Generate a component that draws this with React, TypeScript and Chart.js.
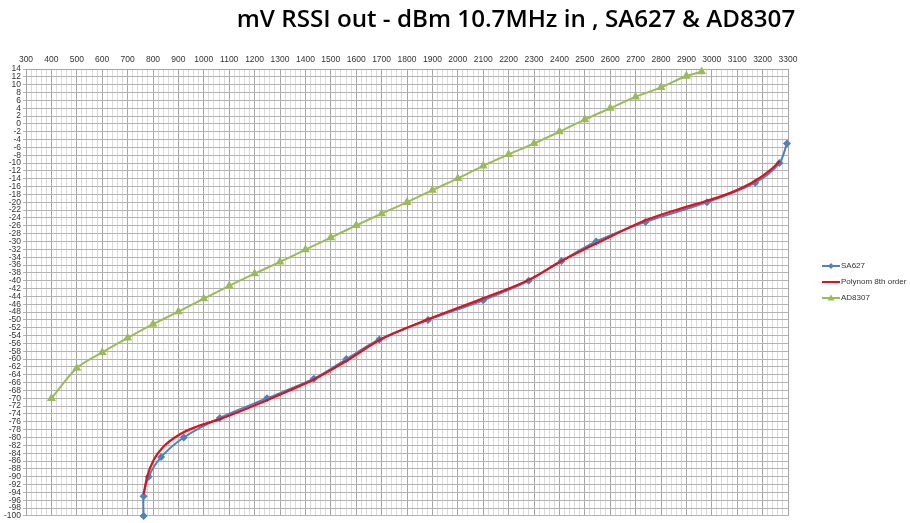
import React, { useEffect, useRef } from "react";
import { Chart, registerables } from "chart.js";

Chart.register(...registerables);

// ---- Data (mV on x, dBm on y) ----
const sa627X = [763, 763, 783, 832, 921, 1063, 1249, 1433, 1561, 1691, 1883, 2100, 2279, 2408, 2545, 2739, 2981, 3171, 3266, 3296];
const sa627Y = [-100, -95, -90, -85, -80, -75, -70, -65, -60, -55, -50, -45, -40, -35, -30, -25, -20, -15, -10, -5];

const polyX = [763, 777, 803, 842, 908, 974, 1063, 1170, 1249, 1330, 1433, 1561, 1691, 1885, 2100, 2279, 2408, 2562, 2739, 2877, 2981, 3073, 3171, 3230, 3268];
const polyY = [-94.5, -90, -85.7, -82.3, -79.1, -77.2, -75.3, -72.6, -70.5, -68.2, -65.2, -60.5, -55.2, -49.8, -44.5, -39.8, -35, -30, -24.6, -21.6, -19.6, -17.6, -14.5, -11.8, -9.5];

const ad8307X = [400, 500, 600, 700, 800, 900, 1000, 1100, 1200, 1300, 1400, 1500, 1600, 1700, 1800, 1900, 2000, 2100, 2200, 2300, 2400, 2500, 2600, 2700, 2800, 2900, 2960];
const ad8307Y = [-70, -62.3, -58.3, -54.6, -51.1, -47.9, -44.6, -41.3, -38.2, -35.2, -32.1, -29.0, -25.9, -22.9, -20.0, -16.9, -13.9, -10.7, -7.8, -5.0, -2.0, 1.1, 4.0, 6.9, 9.3, 12.2, 13.3];

const xMin = 300;
const xMax = 3300;
const xLabelStep = 100;
const xGridStep = 20;
const yMin = -100;
const yMax = 14;
const yStep = 2;

const titleText = "mV RSSI out - dBm 10.7MHz in , SA627 & AD8307";
const seriesNames = ["SA627", "Polynom 8th order", "AD8307"];

const BLUE = "#4F81BD";
const RED = "#E3101A";
const GREEN = "#9BBB59";
const FONT = "'Liberation Sans', Arial, sans-serif";

const toPoints = (xs: number[], ys: number[]) => xs.map((x, i) => ({ x, y: ys[i] }));

export default function App() {
  const ref = useRef<HTMLCanvasElement>(null);

  useEffect(() => {
    if (!ref.current) return;

    const overlay = {
      id: "overlay",
      afterDraw(chart: any) {
        const ctx = chart.ctx as CanvasRenderingContext2D;
        ctx.save();
        // title
        ctx.fillStyle = "#000";
        ctx.font = "600 24.2px 'Open Sans', sans-serif";
        ctx.textAlign = "center";
        ctx.textBaseline = "middle";
        ctx.fillText(titleText, 516, 20);
        // legend
        const styles = [
          { color: BLUE, marker: "diamond" },
          { color: RED, marker: "" },
          { color: GREEN, marker: "triangle" },
        ];
        styles.forEach((s, i) => {
          const y = 266 + 16 * i;
          ctx.strokeStyle = s.color;
          ctx.lineWidth = 2;
          ctx.beginPath();
          ctx.moveTo(822, y);
          ctx.lineTo(840, y);
          ctx.stroke();
          ctx.fillStyle = s.color;
          if (s.marker === "diamond") {
            ctx.beginPath();
            ctx.moveTo(831, y - 3);
            ctx.lineTo(834, y);
            ctx.lineTo(831, y + 3);
            ctx.lineTo(828, y);
            ctx.closePath();
            ctx.fill();
          } else if (s.marker === "triangle") {
            ctx.beginPath();
            ctx.moveTo(831, y - 3.5);
            ctx.lineTo(834.5, y + 2.5);
            ctx.lineTo(827.5, y + 2.5);
            ctx.closePath();
            ctx.fill();
          }
          ctx.fillStyle = "#333";
          ctx.font = `8px ${FONT}`;
          ctx.textAlign = "left";
          ctx.textBaseline = "middle";
          ctx.fillText(seriesNames[i], 841, y);
        });
        ctx.restore();
      },
    };

    const chart = new Chart(ref.current, {
      type: "scatter",
      data: {
        datasets: [
          {
            label: seriesNames[0],
            data: toPoints(sa627X, sa627Y),
            showLine: true,
            borderColor: BLUE,
            backgroundColor: BLUE,
            borderWidth: 2,
            pointStyle: "rectRot",
            pointRadius: 2.6,
            tension: 0.3,
            order: 1,
            clip: false,
          },
          {
            label: seriesNames[1],
            data: toPoints(polyX, polyY),
            showLine: true,
            borderColor: RED,
            backgroundColor: RED,
            borderWidth: 2.25,
            pointRadius: 0,
            cubicInterpolationMode: "monotone",
            order: 0,
            clip: false,
          },
          {
            label: seriesNames[2],
            data: toPoints(ad8307X, ad8307Y),
            showLine: true,
            borderColor: GREEN,
            backgroundColor: GREEN,
            borderWidth: 2,
            pointStyle: "triangle",
            pointRadius: 3.2,
            tension: 0.3,
            order: 2,
            clip: false,
          },
        ],
      } as any,
      options: {
        responsive: false,
        animation: false,
        devicePixelRatio: 1,
        layout: { padding: { left: 0, top: 0, right: 122, bottom: 7 } },
        plugins: {
          legend: { display: false },
          title: { display: false },
          tooltip: { enabled: false },
        },
        scales: {
          x: {
            type: "linear",
            position: "top",
            min: xMin,
            max: xMax,
            ticks: {
              stepSize: xGridStep,
              autoSkip: false,
              maxRotation: 0,
              padding: 4,
              color: "#333",
              font: { size: 8.5, family: FONT },
              callback: (v: any) => (Math.round(v) % xLabelStep === 0 ? String(Math.round(v)) : ""),
            },
            grid: {
              drawTicks: false,
              color: (c: any) => (Math.round(c.tick?.value ?? 0) % xLabelStep === 0 ? "#a6a6a6" : "#d9d9d9"),
              lineWidth: 1,
            },
            border: { color: "#a6a6a6" },
            afterFit: (s: any) => {
              s.height = 69;
            },
          },
          y: {
            type: "linear",
            min: yMin,
            max: yMax,
            ticks: {
              stepSize: yStep,
              autoSkip: false,
              padding: 2,
              color: "#333",
              font: { size: 8.5, family: FONT },
            },
            grid: { color: "#b3b3b3", tickLength: 3, lineWidth: 1 },
            border: { color: "#a6a6a6" },
            afterFit: (s: any) => {
              s.width = 26;
            },
          },
        },
      } as any,
      plugins: [overlay],
    });

    return () => chart.destroy();
  }, []);

  return (
    <div style={{ position: "absolute", left: 0, top: 0, width: 910, height: 523, background: "#fff" }}>
      <canvas ref={ref} width={910} height={523} style={{ display: "block", width: 910, height: 523 }} />
    </div>
  );
}
